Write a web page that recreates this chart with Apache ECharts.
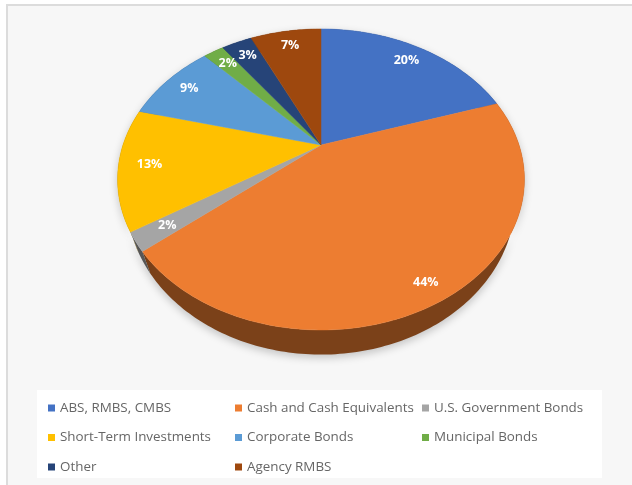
<!DOCTYPE html>
<html>
<head>
<meta charset="utf-8">
<script src="https://cdn.jsdelivr.net/npm/echarts@6/dist/echarts.min.js"></script>
<style>
html,body{margin:0;padding:0;background:#fff;}
#chart{width:632px;height:485px;}
</style>
</head>
<body>
<div id="chart"></div>
<script>
// ---- data ----
const categories = ['ABS, RMBS, CMBS', 'Cash and Cash Equivalents', 'U.S. Government Bonds',
  'Short-Term Investments', 'Corporate Bonds', 'Municipal Bonds', 'Other', 'Agency RMBS'];
const values = [20, 44, 2, 13, 9, 2, 3, 7];
const colors = ['#4472C4', '#ED7D31', '#A5A5A5', '#FFC000', '#5B9BD5', '#70AD47', '#264478', '#9E480E'];
const legendCols = [[0, 3, 6], [1, 4, 7], [2, 5]];

// ---- derived ----
const total = values.reduce((a, b) => a + b, 0);
const starts = [];
values.reduce((acc, v, i) => { starts[i] = acc; return acc + v; }, 0);

// ---- 3D pie projection (style/geometry) ----
const AX = 321, AY = 145;      // apex (pie centre) on screen
const BX = 198, AYS = 142.6;   // horizontal / vertical radii
const K = 0.229;               // perspective
const DEPTH = 19;              // thickness
const BOT_SCALE = 0.955;       // bottom face appears slightly narrower (perspective)

function proj(theta, r, dz, sx) {
  const u = r * Math.sin(theta), v = r * Math.cos(theta);
  const den = 1 + K * v;
  return [AX + (sx || 1) * BX * u / den, AY - AYS * v / den + (dz || 0) / den];
}
function arc(t0, t1, dz, sx) {
  const n = Math.max(2, Math.ceil((t1 - t0) / (Math.PI / 180)));
  const pts = [];
  for (let i = 0; i <= n; i++) pts.push(proj(t0 + (t1 - t0) * i / n, 1, dz, sx));
  return pts;
}
function darken(hex, f) {
  const n = parseInt(hex.slice(1), 16);
  const r = Math.round(((n >> 16) & 255) * f), g = Math.round(((n >> 8) & 255) * f), b = Math.round((n & 255) * f);
  return 'rgb(' + r + ',' + g + ',' + b + ')';
}
function angles(api) {
  const v = api.value(0), s = api.value(1);
  return [s / total * Math.PI * 2, (s + v) / total * Math.PI * 2, v];
}

function renderSide(params, api) {
  const [t0, t1] = angles(api);
  const top = arc(t0, t1, 0, 1);
  const bot = arc(t0, t1, DEPTH, BOT_SCALE).reverse();
  return {
    type: 'polygon',
    shape: { points: top.concat(bot) },
    style: { fill: darken(colors[api.value(2)], 0.52), shadowBlur: 8, shadowColor: 'rgba(0,0,0,0.22)', shadowOffsetY: 3 }
  };
}
function renderTop(params, api) {
  const [t0, t1, v] = angles(api);
  const pts = [[AX, AY]].concat(arc(t0, t1, 0, 1));
  const tm = (t0 + t1) / 2;
  const lp = proj(tm, v / total > 0.3 ? 0.9 : 0.85, 0, 1);
  return {
    type: 'group',
    children: [
      { type: 'polygon', shape: { points: pts }, style: { fill: api.visual('color'), stroke: api.visual('color'), lineWidth: 0.5 } },
      { type: 'text', x: lp[0], y: lp[1], z2: 10,
        style: { text: Math.round(v / total * 100) + '%', fill: '#ffffff', align: 'center', verticalAlign: 'middle',
                 font: 'bold 12.5px "Open Sans", "Liberation Sans", sans-serif' } }
    ]
  };
}

const series = [{
  type: 'custom', name: '_side', coordinateSystem: 'none', z: 1, silent: true,
  renderItem: renderSide,
  data: values.map((v, i) => [v, starts[i], i])
}];
categories.forEach((c, i) => {
  series.push({
    type: 'custom', name: c, coordinateSystem: 'none', z: 2, silent: true,
    itemStyle: { color: colors[i] },
    renderItem: renderTop,
    data: [[values[i], starts[i]]]
  });
});

const legendLeft = [48, 235, 422];
const legend = legendCols.map((col, j) => ({
  data: col.map(i => categories[i]),
  orient: 'vertical', left: legendLeft[j], top: 400, padding: 0,
  icon: 'rect', itemWidth: 7, itemHeight: 7, itemGap: 13.5, selectedMode: false,
  textStyle: { color: '#666666', fontSize: 13.4, lineHeight: 16, fontFamily: '"Open Sans", sans-serif' }
}));

const chart = echarts.init(document.getElementById('chart'));
chart.setOption({
  backgroundColor: '#ffffff',
  animation: false,
  graphic: [
    { type: 'rect', z: -10, shape: { x: 7, y: 5, width: 640, height: 490 }, style: { fill: '#f7f7f7', stroke: '#dcdcdc', lineWidth: 2 } },
    { type: 'rect', z: -9, shape: { x: 37, y: 390, width: 565, height: 88 }, style: { fill: '#ffffff' } }
  ],
  legend: legend,
  series: series
});
</script>
</body>
</html>
